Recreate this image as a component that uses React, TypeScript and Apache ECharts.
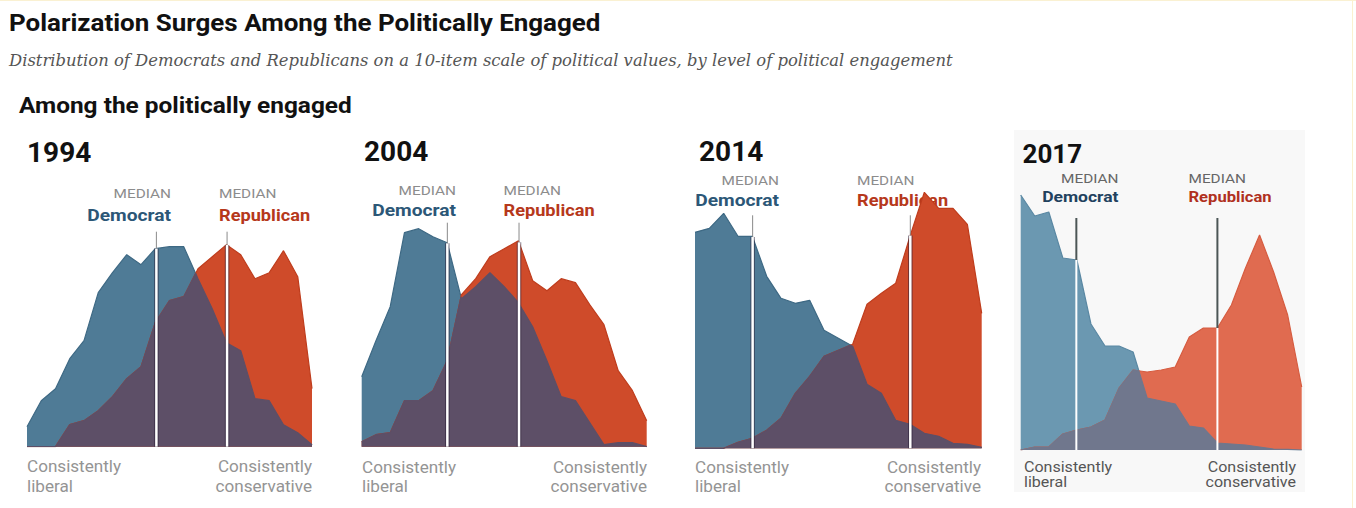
import React, { useEffect, useRef } from "react";
import * as echarts from "echarts";

// Positions on the 10-item political values scale (consistently liberal -> consistently conservative)
const scalePoints = [-10, -9, -8, -7, -6, -5, -4, -3, -2, -1, 0, 1, 2, 3, 4, 5, 6, 7, 8, 9, 10];

const years = ["1994", "2004", "2014", "2017"];

// Share of each party's engaged members at each scale point
const dem1994 = [1.0, 2.3, 2.9, 4.4, 5.3, 7.7, 8.7, 9.6, 9.1, 9.9, 10.0, 10.0, 8.4, 6.9, 5.2, 4.8, 2.4, 2.3, 1.1, 0.7, 0.1];
const rep1994 = [0, 0, 0, 1.1, 1.3, 1.8, 2.5, 3.4, 4.0, 6.2, 7.3, 7.5, 8.9, 9.5, 10.1, 9.6, 8.4, 8.7, 9.8, 8.5, 2.9];

const dem2004 = [3.5, 5.3, 7.0, 10.7, 10.9, 10.5, 10.2, 7.4, 8.0, 8.7, 8.0, 7.2, 6.0, 4.3, 2.5, 2.3, 1.2, 0.1, 0.2, 0.2, 0];
const rep2004 = [0.25, 0.6, 0.7, 2.3, 2.3, 2.8, 4.3, 7.6, 8.4, 9.5, 9.9, 10.3, 8.3, 7.8, 8.4, 8.2, 7.1, 6.1, 3.8, 2.8, 1.3];

const dem2014 = [10.8, 11.0, 11.75, 10.6, 10.6, 8.6, 7.5, 7.25, 7.4, 5.9, 5.5, 5.1, 3.2, 2.75, 1.4, 1.2, 0.75, 0.6, 0.25, 0.2, 0.05];
const rep2014 = [0, 0, 0, 0.3, 0.5, 0.9, 1.5, 2.75, 3.6, 4.6, 4.9, 5.2, 7.2, 7.75, 8.25, 10.6, 12.8, 12.0, 12.0, 11.2, 6.75];

const dem2017 = [12.75, 11.7, 11.9, 9.6, 9.5, 6.3, 5.2, 5.2, 4.9, 2.6, 2.45, 2.3, 1.2, 1.1, 0.35, 0.3, 0.25, 0.15, 0.05, 0.03, 0];
const rep2017 = [0, 0.15, 0.15, 0.8, 1.0, 1.15, 1.5, 3.1, 4.0, 3.9, 4.0, 4.15, 5.65, 6.1, 6.1, 7.25, 9.1, 10.75, 8.9, 6.75, 3.15];

const medianDem = [-0.92, -3.99, -5.98, -6.04];
const medianRep = [4.04, 1.04, 5.02, 4.0];
const medianTop = [10.75, 11.2, 11.65, 11.6];

const demSeries = [dem1994, dem2004, dem2014, dem2017];
const repSeries = [rep1994, rep2004, rep2014, rep2017];

// Layout and styles (not data)
const panelLayout = [
  { left: 27, top: 186.7, width: 285, yearX: 27, yearY: 152, yearSize: 28, demX: 171, repX: 219, y1: 193, y2: 215, b1: 467, b2: 487, bSize: 16, partySize: 17, bLeft: 27, bRight: 312 },
  { left: 361.7, top: 186.7, width: 285, yearX: 364, yearY: 151, yearSize: 28, demX: 456, repX: 503.5, y1: 190, y2: 210, b1: 468, b2: 487, bSize: 16, partySize: 17, bLeft: 362, bRight: 647 },
  { left: 695, top: 188.3, width: 286.7, yearX: 699, yearY: 151.5, yearSize: 28, demX: 779, repX: 857, y1: 180, y2: 200, b1: 468, b2: 487, bSize: 16, partySize: 17, bLeft: 695, bRight: 981 },
  { left: 1020.7, top: 190, width: 281, yearX: 1022.5, yearY: 154, yearSize: 26, demX: 1118.5, repX: 1188.5, y1: 178, y2: 197, b1: 467, b2: 482.5, bSize: 15, partySize: 15.5, bLeft: 1024, bRight: 1296 },
];
const GRID_H = 260;
const Y_MAX = 13;

const classic = {
  dem: "#4f7b96", demLine: "#3e6984", rep: "#cf4b2a", repLine: "#bf3d1d", both: "#5d4f67",
  demText: "#2c5777", repText: "#b6381b", median: "#8c8c8c", bottom: "#949494", stem: "#8a8a8a", stemW: 1, edge: true,
};
const modern = {
  dem: "#6b98b1", demLine: "#5a88a3", rep: "#e06b50", repLine: "#d65c40", both: "#70778d",
  demText: "#21415e", repText: "#b0301e", median: "#666666", bottom: "#555555", stem: "#4c5656", stemW: 2, edge: false,
};
const panelStyle = [classic, classic, classic, modern];

function overlapPoints(xs: number[], a: number[], b: number[]) {
  const out: number[][] = [];
  for (let i = 0; i < xs.length; i++) {
    out.push([xs[i], Math.min(a[i], b[i])]);
    if (i < xs.length - 1) {
      const d0 = a[i] - b[i];
      const d1 = a[i + 1] - b[i + 1];
      if (d0 * d1 < 0) {
        const t = d0 / (d0 - d1);
        out.push([xs[i] + t * (xs[i + 1] - xs[i]), a[i] + t * (a[i + 1] - a[i])]);
      }
    }
  }
  return out;
}

function envelopeAt(xs: number[], a: number[], b: number[], m: number) {
  for (let i = 0; i < xs.length - 1; i++) {
    if (m >= xs[i] && m <= xs[i + 1]) {
      const t = (m - xs[i]) / (xs[i + 1] - xs[i]);
      const va = a[i] + t * (a[i + 1] - a[i]);
      const vb = b[i] + t * (b[i + 1] - b[i]);
      return Math.max(va, vb);
    }
  }
  return 0;
}

export default function App() {
  const ref = useRef<HTMLDivElement>(null);

  useEffect(() => {
    if (!ref.current) return;
    const chart = echarts.init(ref.current, undefined, { renderer: "svg" });

    const series: any[] = [];
    const graphic: any[] = [];

    // background frame details
    graphic.push({ type: "rect", z: 0, shape: { x: 1014, y: 130, width: 291, height: 362 }, style: { fill: "#f8f8f8" } });
    graphic.push({ type: "line", z: 0, shape: { x1: 0, y1: 0.5, x2: 1356, y2: 0.5 }, style: { stroke: "#faf1d2", lineWidth: 1 } });
    graphic.push({ type: "line", z: 0, shape: { x1: 1352.5, y1: 0, x2: 1352.5, y2: 508 }, style: { stroke: "#fbf1cf", lineWidth: 1 } });

    graphic.push({
      type: "text", z: 1, x: 9, y: 23, scaleX: 1.105,
      style: { text: "Polarization Surges Among the Politically Engaged", fill: "#111111", font: "bold 23.5px Roboto", verticalAlign: "middle" },
    });
    graphic.push({
      type: "text", z: 1, x: 9, y: 60,
      style: { text: "Distribution of Democrats and Republicans on a 10-item scale of political values, by level of political engagement", fill: "#555555", font: 'italic 16.4px "DejaVu Serif"', verticalAlign: "middle" },
    });
    graphic.push({
      type: "text", z: 1, x: 19, y: 105, scaleX: 1.11,
      style: { text: "Among the politically engaged", fill: "#111111", font: "bold 22px Roboto", verticalAlign: "middle" },
    });

    years.forEach((year, i) => {
      const L = panelLayout[i];
      const S = panelStyle[i];
      const dem = demSeries[i];
      const rep = repSeries[i];
      const axis = { xAxisIndex: i, yAxisIndex: i };

      series.push({
        type: "line", ...axis, name: `Democrat ${year}`, data: scalePoints.map((x, k) => [x, dem[k]]),
        symbol: "none", silent: true, z: 2,
        lineStyle: { color: S.demLine, width: 1.2 }, areaStyle: { color: S.dem, opacity: 1 },
      });
      series.push({
        type: "line", ...axis, name: `Republican ${year}`, data: scalePoints.map((x, k) => [x, rep[k]]),
        symbol: "none", silent: true, z: 3,
        lineStyle: { color: S.repLine, width: 1.2 }, areaStyle: { color: S.rep, opacity: 1 },
      });
      series.push({
        type: "line", ...axis, name: `Both ${year}`, data: overlapPoints(scalePoints, dem, rep),
        symbol: "none", silent: true, z: 4,
        lineStyle: { color: S.both, width: 1.2 }, areaStyle: { color: S.both, opacity: 1 },
      });

      [medianDem[i], medianRep[i]].forEach((m) => {
        const h = envelopeAt(scalePoints, dem, rep, m);
        if (S.edge) {
          series.push({
            type: "line", ...axis, data: [[m, 0], [m, h]], symbol: "none", silent: true, z: 5,
            lineStyle: { color: "rgba(40,30,52,0.55)", width: 4.5 },
          });
        }
        series.push({
          type: "line", ...axis, data: [[m, 0], [m, h]], symbol: "none", silent: true, z: 6,
          lineStyle: { color: "#ffffff", width: S.edge ? 2.5 : 2 },
        });
        series.push({
          type: "line", ...axis, data: [[m, h], [m, medianTop[i]]], symbol: "none", silent: true, z: 6,
          lineStyle: { color: S.stem, width: S.stemW },
        });
      });

      graphic.push({ type: "text", z: 1, x: L.yearX, y: L.yearY, style: { text: year, fill: "#111111", font: `bold ${L.yearSize}px Roboto`, verticalAlign: "middle" } });
      graphic.push({ type: "text", z: 1, x: L.demX, y: L.y1, scaleX: 1.18, style: { text: "MEDIAN", fill: S.median, font: "13px Roboto", textAlign: "right", verticalAlign: "middle" } });
      graphic.push({ type: "text", z: 1, x: L.demX, y: L.y2, scaleX: 1.13, style: { text: "Democrat", fill: S.demText, font: `bold ${L.partySize}px Roboto`, textAlign: "right", verticalAlign: "middle" } });
      graphic.push({ type: "text", z: 1, x: L.repX, y: L.y1, scaleX: 1.18, style: { text: "MEDIAN", fill: S.median, font: "13px Roboto", textAlign: "left", verticalAlign: "middle" } });
      graphic.push({ type: "text", z: 1, x: L.repX, y: L.y2, scaleX: 1.07, style: { text: "Republican", fill: S.repText, font: `bold ${L.partySize}px Roboto`, textAlign: "left", verticalAlign: "middle" } });

      const bFont = `${L.bSize}px Roboto`;
      graphic.push({ type: "text", z: 1, x: L.bLeft, y: L.b1, scaleX: 1.07, style: { text: "Consistently", fill: S.bottom, font: bFont, verticalAlign: "middle" } });
      graphic.push({ type: "text", z: 1, x: L.bLeft, y: L.b2, scaleX: 1.07, style: { text: "liberal", fill: S.bottom, font: bFont, verticalAlign: "middle" } });
      graphic.push({ type: "text", z: 1, x: L.bRight, y: L.b1, scaleX: 1.07, style: { text: "Consistently", fill: S.bottom, font: bFont, textAlign: "right", verticalAlign: "middle" } });
      graphic.push({ type: "text", z: 1, x: L.bRight, y: L.b2, scaleX: 1.07, style: { text: "conservative", fill: S.bottom, font: bFont, textAlign: "right", verticalAlign: "middle" } });
    });

    chart.setOption({
      animation: false,
      backgroundColor: "#ffffff",
      grid: panelLayout.map((L) => ({ left: L.left, top: L.top, width: L.width, height: GRID_H })),
      xAxis: panelLayout.map((_, i) => ({ type: "value", gridIndex: i, min: -10, max: 10, show: false })),
      yAxis: panelLayout.map((_, i) => ({ type: "value", gridIndex: i, min: 0, max: Y_MAX, show: false })),
      series,
      graphic,
    });

    return () => chart.dispose();
  }, []);

  return <div ref={ref} style={{ position: "fixed", left: 0, top: 0, width: 1356, height: 508 }} />;
}
